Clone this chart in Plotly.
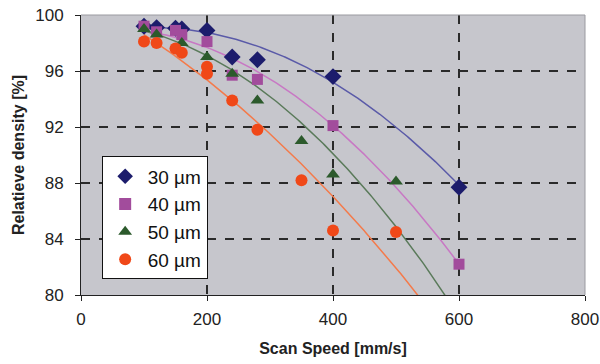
import numpy as np
import plotly.graph_objects as go

# Scan speed [mm/s] and relative density [%] per layer thickness
speed_30 = [100, 120, 150, 160, 200, 240, 280, 400, 600]
dens_30 = [99.2, 99.1, 99.05, 99.0, 98.9, 97.0, 96.8, 95.6, 87.7]

speed_40 = [100, 120, 150, 160, 200, 240, 280, 400, 600]
dens_40 = [99.2, 98.8, 98.9, 98.6, 98.1, 95.7, 95.4, 92.1, 82.2]

speed_50 = [100, 120, 160, 200, 240, 280, 350, 400, 500]
dens_50 = [99.0, 98.6, 98.0, 97.0, 95.8, 93.9, 91.0, 88.6, 88.1]

speed_60 = [100, 120, 150, 160, 200, 200, 240, 280, 350, 400, 500]
dens_60 = [98.1, 98.0, 97.6, 97.3, 96.3, 95.8, 93.9, 91.8, 88.2, 84.6, 84.5]

# second-order trendline coefficients [c2, c1, c0] (density vs speed in mm/s)
trend_30 = [-4.738e-5, 0.01069, 98.50]
trend_40 = [-5.37e-5, 0.00430, 98.97]
trend_50 = [-5.751e-5, -0.00049, 99.50]
trend_60 = [-3.121e-5, -0.022931, 101.20]

names = ["30 µm", "40 µm", "50 µm", "60 µm"]
x_ticks = [0, 200, 400, 600, 800]
y_ticks = [80, 84, 88, 92, 96, 100]

series = [
    (names[0], speed_30, dens_30, trend_30, "diamond", "#1c1c6c", "#5a5aa8", 13),
    (names[1], speed_40, dens_40, trend_40, "square", "#a24c9c", "#c878c4", 11),
    (names[2], speed_50, dens_50, trend_50, "triangle-up", "#2c5a2c", "#5a7a5a", 12),
    (names[3], speed_60, dens_60, trend_60, "circle", "#f04818", "#f47a4a", 12),
]

fig = go.Figure()

# trendlines drawn over 100 ... 600 mm/s
for name, xs, ys, coef, sym, mcol, lcol, msz in series:
    xf = np.linspace(100, 600, 200)
    yf = np.polyval(coef, xf)
    fig.add_trace(go.Scatter(x=xf, y=yf, mode="lines", showlegend=False,
                             line=dict(color=lcol, width=1.5), hoverinfo="skip"))

for name, xs, ys, coef, sym, mcol, lcol, msz in series:
    fig.add_trace(go.Scatter(x=xs, y=ys, mode="markers", name=name,
                             marker=dict(symbol=sym, color=mcol, size=msz,
                                         line=dict(width=0))))

font_family = "Liberation Sans, Arial, sans-serif"
axis_font = dict(family=font_family, size=17, color="#222")
title_font = dict(family=font_family, size=16, color="#222")

fig.update_layout(
    width=600, height=364,
    margin=dict(l=81, r=15, t=15, b=69),
    paper_bgcolor="white",
    plot_bgcolor="#c6c6cc",
    font=axis_font,
    legend=dict(
        x=0.041, y=0.495, xanchor="left", yanchor="top",
        bgcolor="white", bordercolor="#111", borderwidth=1,
        font=dict(family=font_family, size=19, color="#111"),
        itemwidth=35, itemsizing="constant", tracegroupgap=0,
    ),
    xaxis=dict(
        range=[0, 800], tickvals=x_ticks, ticktext=[str(v) for v in x_ticks],
        showgrid=True, gridcolor="#2a2a2a", griddash="dash", gridwidth=1.5,
        showline=True, linecolor="#222", linewidth=1, mirror=False,
        ticks="outside", ticklen=5, tickcolor="#222", ticklabelstandoff=4,
        zeroline=False, automargin=False,
        title=dict(text="<b>Scan Speed [mm/s]</b>", font=title_font, standoff=14),
    ),
    yaxis=dict(
        range=[80, 100], tickvals=y_ticks, ticktext=[str(v) for v in y_ticks],
        showgrid=True, gridcolor="#2a2a2a", griddash="dash", gridwidth=1.5,
        showline=True, linecolor="#222", linewidth=1,
        ticks="outside", ticklen=5, tickcolor="#222", ticklabelstandoff=8,
        zeroline=False, automargin=False,
        title=dict(text="<b>Relatieve density [%]</b>", font=title_font, standoff=6),
    ),
)

# light frame on top and right of the plot area
fig.add_shape(type="line", xref="paper", yref="paper", x0=0, x1=1, y0=1, y1=1,
              line=dict(color="#9a9aa0", width=1))
fig.add_shape(type="line", xref="paper", yref="paper", x0=1, x1=1, y0=0, y1=1,
              line=dict(color="#9a9aa0", width=1))

fig.write_html("out.html")
